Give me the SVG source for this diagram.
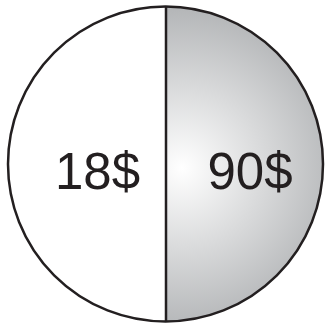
<svg xmlns="http://www.w3.org/2000/svg" width="325" height="325" viewBox="0 0 325 325">
<defs>
<radialGradient id="g" gradientUnits="userSpaceOnUse" cx="182" cy="168" r="160">
<stop offset="0" stop-color="#ffffff"/>
<stop offset="1" stop-color="#b4b6b8"/>
</radialGradient>
<clipPath id="rh"><rect x="166" y="0" width="160" height="325"/></clipPath>
</defs>
<style>
.lbl{font-family:"Liberation Sans",Arial,sans-serif;font-size:51px;fill:#231f20;text-anchor:middle}
.ln{stroke:#231f20;stroke-width:2.5;fill:none}
</style>
<g id="left">
<circle cx="165.5" cy="164" r="157.5" fill="#ffffff"/>
</g>
<g id="right">
<circle cx="165.5" cy="164" r="157.5" fill="url(#g)" clip-path="url(#rh)"/>
</g>
<g id="outline">
<circle class="ln" cx="165.5" cy="164" r="157.5"/>
<line class="ln" x1="166" y1="6.5" x2="166" y2="321.5"/>
</g>
<g id="labels">
<text class="lbl" x="97.5" y="189">18$</text>
<text class="lbl" x="250" y="189">90$</text>
</g>
</svg>
